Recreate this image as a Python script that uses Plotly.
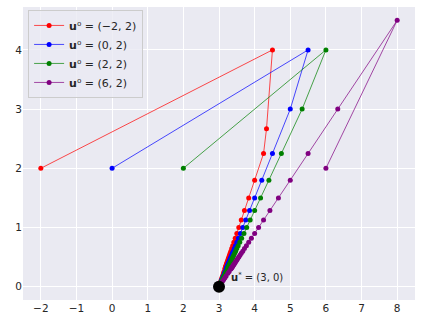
import plotly.graph_objects as go

# iterates
red_x = [-2, 4.5, 4.333, 4.25, 4.0, 3.833, 3.714, 3.625, 3.556, 3.5, 3.455, 3.417, 3.385,
         3.357, 3.333, 3.313, 3.294, 3.278, 3.263, 3.25, 3.238, 3.227, 3.217, 3.208, 3.2,
         3.192, 3.185, 3.179, 3.172, 3.167, 3.143, 3.125, 3.1, 3.083, 3.067, 3.05]
red_y = [2, 4, 2.667, 2.25, 1.8, 1.5, 1.286, 1.125, 1.0, 0.9, 0.818, 0.75, 0.692,
         0.643, 0.6, 0.563, 0.529, 0.5, 0.474, 0.45, 0.429, 0.409, 0.391, 0.375, 0.36,
         0.346, 0.333, 0.321, 0.31, 0.3, 0.257, 0.225, 0.18, 0.15, 0.12, 0.09]

blue_x = [0, 5.5, 5.0, 4.5, 4.2, 4.0, 3.857, 3.75, 3.667, 3.6, 3.545, 3.5, 3.462, 3.429,
          3.4, 3.375, 3.353, 3.333, 3.316, 3.3, 3.286, 3.273, 3.261, 3.25, 3.24, 3.231,
          3.222, 3.214, 3.207, 3.2, 3.171, 3.15, 3.12, 3.1, 3.08, 3.06]
blue_y = [2, 4, 3.0, 2.25, 1.8, 1.5, 1.286, 1.125, 1.0, 0.9, 0.818, 0.75, 0.692, 0.643,
          0.6, 0.563, 0.529, 0.5, 0.474, 0.45, 0.429, 0.409, 0.391, 0.375, 0.36, 0.346,
          0.333, 0.321, 0.31, 0.3, 0.257, 0.225, 0.18, 0.15, 0.12, 0.09]

green_x = [2, 6, 5.333, 4.75, 4.4, 4.167, 4.0, 3.875, 3.778, 3.7, 3.636, 3.583, 3.538, 3.5,
           3.467, 3.438, 3.412, 3.389, 3.368, 3.35, 3.333, 3.318, 3.304, 3.292, 3.28, 3.269,
           3.259, 3.25, 3.241, 3.233, 3.2, 3.175, 3.14, 3.117, 3.093, 3.07]
green_y = [2, 4, 3.0, 2.25, 1.8, 1.5, 1.286, 1.125, 1.0, 0.9, 0.818, 0.75, 0.692, 0.643,
           0.6, 0.563, 0.529, 0.5, 0.474, 0.45, 0.429, 0.409, 0.391, 0.375, 0.36, 0.346,
           0.333, 0.321, 0.31, 0.3, 0.257, 0.225, 0.18, 0.15, 0.12, 0.09]

purple_x = [6, 8, 6.333, 5.5, 5.0, 4.667, 4.429, 4.25, 4.111, 4.0, 3.909, 3.833, 3.769,
            3.714, 3.667, 3.625, 3.588, 3.556, 3.526, 3.5, 3.476, 3.455, 3.435, 3.417, 3.4,
            3.385, 3.37, 3.357, 3.345, 3.333, 3.286, 3.25, 3.2, 3.167, 3.133, 3.1]
purple_y = [2, 4.5, 3.0, 2.25, 1.8, 1.5, 1.286, 1.125, 1.0, 0.9, 0.818, 0.75, 0.692,
            0.643, 0.6, 0.563, 0.529, 0.5, 0.474, 0.45, 0.429, 0.409, 0.391, 0.375, 0.36,
            0.346, 0.333, 0.321, 0.31, 0.3, 0.257, 0.225, 0.18, 0.15, 0.12, 0.09]

series = [
    ("<b>u</b>⁰ = (−2, 2)", red_x, red_y, "rgb(255,0,0)", "rgba(255,0,0,0.7)"),
    ("<b>u</b>⁰ = (0, 2)", blue_x, blue_y, "rgb(0,0,255)", "rgba(0,0,255,0.7)"),
    ("<b>u</b>⁰ = (2, 2)", green_x, green_y, "rgb(0,128,0)", "rgba(0,128,0,0.7)"),
    ("<b>u</b>⁰ = (6, 2)", purple_x, purple_y, "rgb(128,0,128)", "rgba(128,0,128,0.7)"),
]
opt_x, opt_y = [3], [0]

TEXT = "#262626"
FONT = "DejaVu Sans"

fig = go.Figure()
for name, xs, ys, mcol, lcol in series:
    fig.add_trace(go.Scatter(
        x=xs, y=ys, name=name, mode="lines+markers",
        line=dict(color=lcol, width=1),
        marker=dict(color=mcol, size=5),
    ))

fig.add_trace(go.Scatter(
    x=opt_x, y=opt_y, mode="markers", showlegend=False,
    marker=dict(color="black", size=12),
))
fig.add_annotation(
    x=opt_x[0], y=opt_y[0], text="<b>u</b><sup>*</sup> = (3, 0)",
    showarrow=False, xanchor="left", yanchor="bottom", xshift=10, yshift=2,
    font=dict(size=10, color=TEXT, family=FONT),
)

axis = dict(
    showgrid=True, gridcolor="white", gridwidth=1, zeroline=False, automargin=False,
    showline=False, ticks="", tickfont=dict(size=10.5, color=TEXT, family=FONT),
)
fig.update_xaxes(range=[-2.5, 8.5], tickmode="array", tickvals=list(range(-2, 9)),
                 ticktext=[str(v).replace("-", "−") for v in range(-2, 9)], **axis)
fig.update_yaxes(range=[-0.225, 4.725], tickmode="array", tickvals=list(range(0, 5)), **axis)

fig.update_layout(
    width=424, height=327,
    margin=dict(l=23, r=9, t=7, b=27),
    paper_bgcolor="white", plot_bgcolor="#EAEAF2",
    font=dict(family=FONT, color=TEXT),
    legend=dict(
        x=0.013, y=0.99, xanchor="left", yanchor="top",
        bgcolor="rgba(234,234,242,0.8)", bordercolor="#cccccc", borderwidth=1,
        font=dict(size=11, color=TEXT, family=FONT), tracegroupgap=0,
        itemwidth=30,
    ),
)

# page body has a default margin; drop it so the figure sits at the window corner
fig.write_html("out.html", config={"displayModeBar": False},
               post_script="document.body.style.margin='0';")
